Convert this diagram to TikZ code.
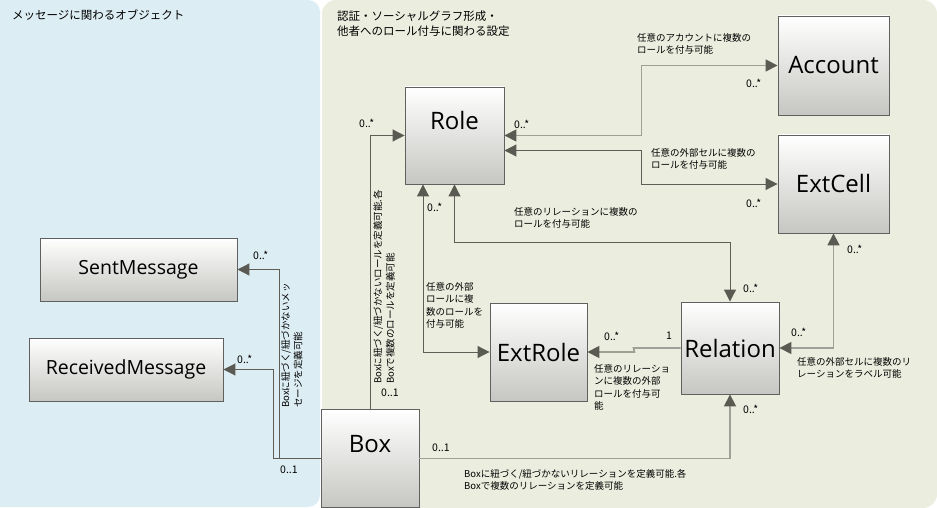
\documentclass[tikz,border=0pt]{standalone}
\usepackage{fontspec}
\setmainfont{Noto Sans CJK JP}
\newfontfamily\boxfont{Open Sans}
\usetikzlibrary{arrows.meta}
\definecolor{leftbg}{HTML}{DCEDF3}
\definecolor{rightbg}{HTML}{EBEEDF}
\definecolor{boxedge}{HTML}{606060}
\definecolor{boxbot}{HTML}{C6C6C2}
\definecolor{arrc}{HTML}{5A5A52}
\definecolor{lined}{HTML}{5E5E56}
\definecolor{linel}{HTML}{A0A096}
\tikzset{
 cls/.style={draw=boxedge,line width=0.9pt,top color=white,bottom color=boxbot,inner sep=0pt,font=\boxfont\fontsize{24}{28}\selectfont,text=black},
 smallcls/.style={cls,font=\boxfont\fontsize{19.5}{23}\selectfont},
 nm/.style={font=\boxfont\fontsize{24}{28}\selectfont,text=black,inner sep=0pt},
 ht/.tip={Triangle[length=12pt,width=12pt,color=arrc,fill=arrc]},
 dk/.style={draw=lined,line width=1pt},
 lt/.style={draw=linel,line width=1.7pt},
 lbl/.style={font=\fontsize{9.5}{12.5}\selectfont,text=black,inner sep=0pt},
 mult/.style={font=\fontsize{10.5}{12.5}\selectfont,text=black,inner sep=0pt,anchor=west},
 mlbl/.style={lbl,align=left,anchor=north west},
 ttl/.style={font=\fontsize{11.5}{15}\selectfont,inner sep=0pt,align=left,anchor=north west,text=black},
}
\begin{document}
\begin{tikzpicture}[x=1pt,y=-1pt]
\useasboundingbox (0,0) rectangle (937,508);
\fill[white] (0,0) rectangle (937,508);
\fill[leftbg,rounded corners=12pt] (-20,0) rectangle (320,507);
\fill[rightbg,rounded corners=14pt] (322,0) rectangle (937,508);

\node[ttl] (t1) at (12,9) {メッセージに関わるオブジェクト};
\node[ttl] (t2) at (337,11) {認証・ソーシャルグラフ形成・\\他者へのロール付与に関わる設定};

% classes
\node[cls,minimum width=99pt,minimum height=97pt,label={[nm,yshift=15pt]center:Role}] (role) at (454.5,135.5) {};
\node[cls,minimum width=111pt,minimum height=99pt] (account) at (833.5,65.5) {Account};
\node[cls,minimum width=111pt,minimum height=98pt] (extcell) at (833.5,184) {ExtCell};
\node[cls,minimum width=97pt,minimum height=98pt] (extrole) at (538.5,352) {ExtRole};
\node[cls,minimum width=98pt,minimum height=92pt] (relation) at (730,348) {Relation};
\node[smallcls,minimum width=197pt,minimum height=63pt] (sent) at (138.5,269.5) {SentMessage};
\node[smallcls,minimum width=194pt,minimum height=63pt] (recv) at (126,369.5) {ReceivedMessage};
\node[cls,minimum width=98pt,minimum height=98pt,label={[nm,yshift=14pt]center:Box}] (box) at (370,458.5) {};

% connectors
\draw[dk,-{ht}] (box.north) |- (role.west);
\draw[dk,-{ht}] (box.west) -| ([xshift=42pt]sent.east) -- (sent.east);
\draw[dk,-{ht}] (box.west) -| ([xshift=50pt]recv.east) -- (recv.east);
\draw[lt,{ht}-{ht}] (role.east) -| ([xshift=-136pt]account.west) -- (account.west);
\draw[dk,{ht}-{ht}] ([yshift=-15pt]role.east) -| ([xshift=-136pt]extcell.west) -- (extcell.west);
\draw[dk,{ht}-{ht}] (role.south) |- ([yshift=59pt]relation.north) -- (relation.north);
\draw[dk,{ht}-{ht}] ([xshift=-31.5pt]role.south) |- (extrole.west);
\draw[lt,-{ht}] (relation.west) -- ++(-47,0) -- ([xshift=47pt]extrole.east) -- (extrole.east);
\draw[lt,{ht}-{ht}] (extcell.south) |- (relation.east);
\draw[lt,-{ht}] (box.east) -| (relation.south);

% multiplicities
\node[mult] (a1) at (359,123) {0..*};
\node[mult] (a2) at (514,124) {0..*};
\node[mult] (a3) at (746,83) {0..*};
\node[mult] (a4) at (746,203) {0..*};
\node[mult] (a5) at (427,207) {0..*};
\node[mult] (a6) at (743,288) {0..*};
\node[mult] (a7) at (604,336) {0..*};
\node[mult] (a8) at (666,336) {1};
\node[mult] (a9) at (791,332) {0..*};
\node[mult] (a10) at (847,249) {0..*};
\node[mult] (a11) at (743,409) {0..*};
\node[mult] (a12) at (432,448) {0..1};
\node[mult] (a13) at (381,393) {0..1};
\node[mult] (a14) at (253,255) {0..*};
\node[mult] (a15) at (237,359) {0..*};
\node[mult] (a16) at (280,470) {0..1};

% notes
\node[mlbl] (m1) at (637,33) {任意のアカウントに複数の\\ロールを付与可能};
\node[mlbl] (m2) at (651,148) {任意の外部セルに複数の\\ロールを付与可能};
\node[mlbl] (m3) at (514,207) {任意のリレーションに複数の\\ロールを付与可能};
\node[mlbl] (m4) at (426,282) {任意の外部\\ロールに複\\数のロールを\\付与可能};
\node[mlbl] (m5) at (594,364) {任意のリレーショ\\ンに複数の外部\\ロールを付与可\\能};
\node[mlbl] (m6) at (797,357) {任意の外部セルに複数のリ\\レーションをラベル可能};
\node[mlbl] (m7) at (464,469) {Boxに紐づく/紐づかないリレーションを定義可能.各\\Boxで複数のリレーションを定義可能};
\node[lbl,rotate=90,anchor=north west,align=left] (r1) at (373,384) {Boxに紐づく/紐づかないロールを定義可能.各\\Boxで複数のロールを定義可能};
\node[lbl,rotate=90,anchor=north west,align=left] (r2) at (281,408) {Boxに紐づく/紐づかないメッ\\セージを定義可能};
\end{tikzpicture}
\end{document}
